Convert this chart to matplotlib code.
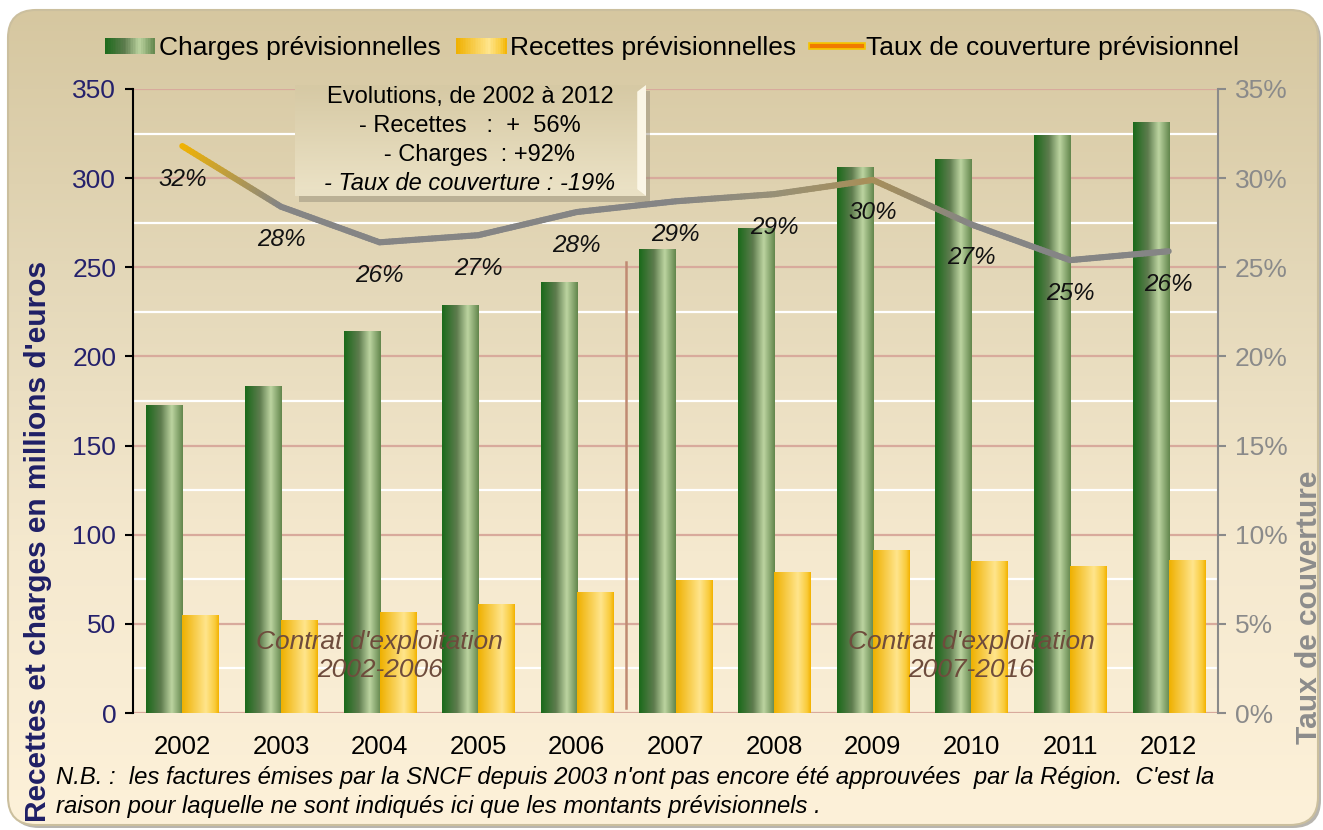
import numpy as np
import matplotlib
matplotlib.use('Agg')
import matplotlib.pyplot as plt
from matplotlib.patches import FancyBboxPatch, Rectangle, Polygon
from matplotlib.collections import LineCollection
from matplotlib.colors import LinearSegmentedColormap, to_rgb
from matplotlib.lines import Line2D
from matplotlib.legend_handler import HandlerBase
import matplotlib.patheffects as pe

years = ['2002', '2003', '2004', '2005', '2006', '2007', '2008', '2009', '2010', '2011', '2012']
charges = [173, 183.5, 214, 229, 242, 260, 272, 306, 311, 324, 331.5]
recettes = [55, 52.2, 56.6, 61, 68, 74.6, 79, 91.5, 85.2, 82.5, 86]
taux = [31.8, 28.4, 26.4, 26.8, 28.1, 28.7, 29.1, 29.9, 27.4, 25.4, 25.9]
# colour of the rate line at each year (gradient effect)
taux_colors = ['#f2b300', '#858585', '#858585', '#858585', '#858585', '#858585',
               '#979078', '#a88f58', '#858585', '#858585', '#858585']

plt.rcParams['font.family'] = ['Liberation Sans', 'DejaVu Sans']

W, H = 1323, 830
fig = plt.figure(figsize=(W / 100, H / 100), dpi=100)

# ---- background frame ----
bg = fig.add_axes([0, 0, 1, 1], zorder=-10)
bg.axis('off')
shadow = FancyBboxPatch((11, 13), 1310, 815, boxstyle='round,pad=0,rounding_size=28',
                        facecolor='#8a857a', edgecolor='none', alpha=0.6, zorder=1)
bg.add_patch(shadow)
frame = FancyBboxPatch((8, 10), 1310, 815, boxstyle='round,pad=0,rounding_size=28',
                       facecolor='none', edgecolor='#cbbf9e', lw=1.5, zorder=3)
bg.add_patch(frame)
bg_cmap = LinearSegmentedColormap.from_list('bg', ['#d6c7a0', '#e4d8b9', '#f5e9cf', '#fdf1d9'])
grad = np.linspace(0, 1, 256).reshape(-1, 1)
im = bg.imshow(grad, extent=[8, 1318, 825, 10], cmap=bg_cmap, aspect='auto', zorder=2)
im.set_clip_path(frame)
bg.set_xlim(0, W)
bg.set_ylim(H, 0)

# ---- main axes ----
ax = fig.add_axes([133 / W, 1 - 713 / H, (1218 - 133) / W, (713 - 89) / H])
ax.patch.set_alpha(0)
x = np.arange(len(years))
bw = 0.365

green = LinearSegmentedColormap.from_list('g', [(0, '#1a6a1a'), (0.4, '#5e7c4e'), (0.7, '#bcd4a0'), (1, '#62864c')])
yellow = LinearSegmentedColormap.from_list('y', [(0, '#efb000'), (0.65, '#ffe58c'), (0.9, '#f9cb3a'), (1, '#f3b200')])

b1 = ax.bar(x - bw / 2, charges, bw, color='none', zorder=3)
b2 = ax.bar(x + bw / 2, recettes, bw, color='none', zorder=3)
hgrad = np.linspace(0, 1, 128).reshape(1, -1)
for bars, cm in ((b1, green), (b2, yellow)):
    for r in bars:
        bx, by, bwid, bh = r.get_x(), r.get_y(), r.get_width(), r.get_height()
        g = ax.imshow(hgrad, extent=[bx, bx + bwid, by, by + bh], cmap=cm, aspect='auto', zorder=3)
        g.set_clip_path(r)

ax.set_xlim(-0.5, len(years) - 0.5)
ax.set_ylim(0, 350)
ax.set_yticks(np.arange(0, 351, 50))
ax.set_yticks(np.arange(25, 350, 50), minor=True)
ax.grid(axis='y', which='major', color='#d8aa9c', lw=1.6)
ax.grid(axis='y', which='minor', color='white', lw=1.6)
ax.set_axisbelow(True)
ax.set_xticks(x)
ax.set_xticklabels(years, fontsize=18.5)
ax.tick_params(axis='x', length=0, pad=16)
ax.tick_params(axis='y', which='major', labelsize=19, labelcolor='#25216c', color='black',
               length=6, width=1.5, pad=6)
ax.tick_params(axis='y', which='minor', length=0)
for s in ('top', 'bottom', 'right'):
    ax.spines[s].set_visible(False)
ax.spines['left'].set_linewidth(1.5)

# contract separator and labels
ax.plot([4.5, 4.5], [3, 253], color='#c08a72', lw=1.8, zorder=4)
ax.text(2.0, 32, "Contrat d'exploitation\n2002-2006", ha='center', va='center', fontsize=19,
        style='italic', color='#6e4c3c', linespacing=1.25, zorder=6)
ax.text(8.0, 32, "Contrat d'exploitation\n2007-2016", ha='center', va='center', fontsize=19,
        style='italic', color='#6e4c3c', linespacing=1.25, zorder=6)

# ---- right axis: coverage rate ----
ax2 = ax.twinx()
ax2.set_ylim(0, 35)
ax2.set_yticks(np.arange(0, 36, 5))
ax2.set_yticklabels([f'{v}%' for v in range(0, 36, 5)])
ax2.tick_params(axis='y', labelsize=19, labelcolor='#8a8a8a', color='#8a8a8a', length=6, width=1.5, pad=6)
for s in ('top', 'bottom', 'left'):
    ax2.spines[s].set_visible(False)
ax2.spines['right'].set_color('#8a8a8a')
ax2.spines['right'].set_linewidth(1.5)

segs, cols = [], []
for i in range(len(taux) - 1):
    c0, c1 = np.array(to_rgb(taux_colors[i])), np.array(to_rgb(taux_colors[i + 1]))
    for t0 in np.linspace(0, 1, 30, endpoint=False):
        t1 = t0 + 1 / 30
        segs.append([(x[i] + t0, taux[i] + (taux[i + 1] - taux[i]) * t0),
                     (x[i] + t1, taux[i] + (taux[i + 1] - taux[i]) * t1)])
        cols.append(c0 + (c1 - c0) * (t0 + 0.5 / 30))
lc = LineCollection(segs, colors=cols, linewidths=4.4, capstyle='round', joinstyle='round', zorder=5)
ax2.add_collection(lc)
for xi, v in zip(x, taux):
    ax2.annotate(f'{v:.0f}%', (xi, v), xytext=(0, -33), textcoords='offset pixels',
                 ha='center', va='center', fontsize=17.5, style='italic', color='#111111', zorder=6)

# ---- axis titles ----
fig.text(38 / W, 1 - 541 / H, "Recettes et charges en millions d'euros", rotation=90,
         ha='center', va='center', fontsize=21.5, fontweight='bold', color='#1f1f66')
fig.text(1309 / W, 1 - 607 / H, 'Taux de couverture', rotation=90, ha='center', va='center',
         fontsize=21.5, fontweight='bold', color='#8c8c8c')

# ---- legend ----
class GradientHandler(HandlerBase):
    def __init__(self, cmap):
        super().__init__()
        self.cmap = cmap

    def create_artists(self, legend, orig_handle, xdescent, ydescent, width, height, fontsize, trans):
        n = 30
        arts = []
        for i in range(n):
            arts.append(Rectangle((-xdescent + width * i / n, -ydescent), width / n * 1.1, height,
                                  facecolor=self.cmap((i + 0.5) / n), edgecolor='none', transform=trans))
        return arts

h1 = Rectangle((0, 0), 1, 1)
h2 = Rectangle((0, 0), 1, 1)
h3 = Line2D([], [], color='#f07a00', lw=3,
            path_effects=[pe.Stroke(linewidth=5.5, foreground='#f5c400'), pe.Normal()])
fig.legend([h1, h2, h3], ['Charges prévisionnelles', 'Recettes prévisionnelles', 'Taux de couverture prévisionnel'],
           loc='center', bbox_to_anchor=(672 / W, 1 - 48 / H), ncol=3, frameon=False, fontsize=19,
           handlelength=1.9, handleheight=0.55, handletextpad=0.15, columnspacing=0.6,
           handler_map={h1: GradientHandler(green), h2: GradientHandler(yellow)})

# ---- evolution box ----
bx0, by0, bx1, by1 = 295, 85, 646, 196
box_sh = FancyBboxPatch(((bx0 + 4) / W, 1 - (by1 + 6) / H), (bx1 - bx0) / W, (by1 - by0) / H,
                        boxstyle='square,pad=0', transform=fig.transFigure,
                        facecolor='#8f8775', edgecolor='none', alpha=0.45, zorder=9)
fig.add_artist(box_sh)
bax = fig.add_axes([bx0 / W, 1 - by1 / H, (bx1 - bx0) / W, (by1 - by0) / H], zorder=10)
bax.axis('off')
bax.set_xlim(0, 1)
bax.set_ylim(0, 1)
box_cmap = LinearSegmentedColormap.from_list('box', ['#ece3c7', '#d6c9a4'])
bax.imshow(np.linspace(0, 1, 64).reshape(-1, 1), extent=[0, 1, 0, 1], cmap=box_cmap,
           aspect='auto', origin='lower')
bax.add_patch(Polygon([[0.975, 0.06], [1, 0], [1, 1], [0.975, 0.94]], closed=True,
                      facecolor='#fbf6e6', edgecolor='none'))
bax.add_patch(Polygon([[0, 0], [1, 0], [0.975, 0.06], [0.01, 0.06]], closed=True,
                      facecolor='#e9e0c4', edgecolor='none'))
box_lines = ['Evolutions, de 2002 à 2012', '- Recettes   :  +  56%', '   - Charges  : +92%']
for i, t in enumerate(box_lines):
    fig.text(470 / W, 1 - (97 + 29 * i) / H, t, ha='center', va='center', fontsize=17, color='black', zorder=11)
fig.text(470 / W, 1 - 183 / H, '- Taux de couverture : -19%', ha='center', va='center', fontsize=17,
         style='italic', color='black', zorder=11)

# ---- note ----
fig.text(56 / W, 1 - 777 / H, "N.B. :  les factures émises par la SNCF depuis 2003 n'ont pas encore été approuvées  par la Région.  C'est la",
         ha='left', va='center', fontsize=17.2, style='italic', color='black')
fig.text(56 / W, 1 - 806 / H, "raison pour laquelle ne sont indiqués ici que les montants prévisionnels .",
         ha='left', va='center', fontsize=17.2, style='italic', color='black')

fig.savefig('out.png', dpi=100)
